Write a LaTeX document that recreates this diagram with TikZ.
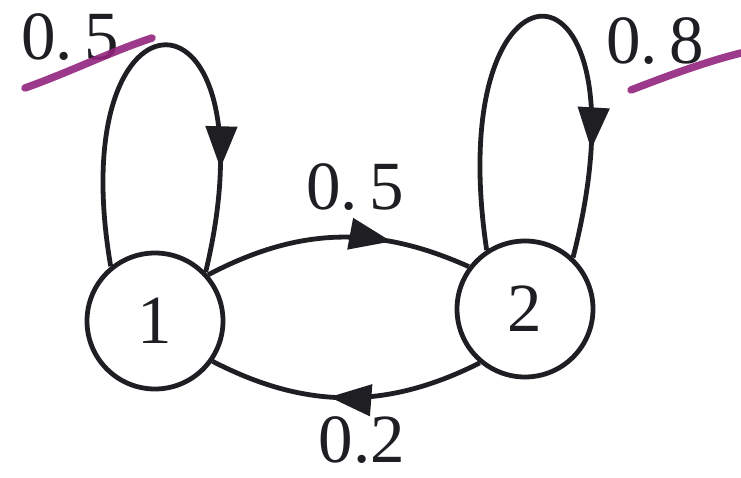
\documentclass[tikz,border=0pt]{standalone}
\usepackage{fontspec}
\setmainfont{Liberation Serif}
\usetikzlibrary{arrows.meta,decorations.markings}
\definecolor{ink}{RGB}{30,30,35}
\definecolor{marker}{RGB}{145,35,125}
\tikzset{
  state/.style={circle,draw=ink,line width=4.8pt,minimum size=136pt,inner sep=0pt,font=\fontsize{69}{70}\selectfont,text=ink},
  lbl/.style={font=\fontsize{69}{70}\selectfont,text=ink,inner sep=0pt},
  edge/.style={draw=ink,line width=4.8pt},
  midarrow/.style={postaction={decorate},decoration={markings,mark=at position #1 with {\arrow{Triangle[length=42pt,width=31pt]}}}},
  hl/.style={draw=marker,line width=7.5pt,line cap=round,opacity=0.9}
}
\begin{document}
\begin{tikzpicture}[x=1pt,y=-1pt]
\useasboundingbox (0,0) rectangle (741,478);
\node[state] (n1) at (155,321) {1};
\node[state] (n2) at (525,309) {2};
% self loops
\draw[edge,midarrow=0.79] (n1.129) .. controls (60,-30) and (278,-30) .. (n1.44);
\draw[edge,midarrow=0.79] (n2.123) .. controls (440,-63) and (655,-63) .. (n2.47);
% arcs between states
\draw[edge,midarrow=0.7] (n1.41) to[bend left=26] (n2.143);
\draw[edge,midarrow=0.56] (n2.-130) to[bend left=27] (n1.-35);
% labels
\node[lbl] (l12) at (355,187) {0.\,5};
\node[lbl] (l21) at (362,440) {0.2};
\node[lbl] (l11) at (70,37) {0.\,5};
\node[lbl] (l22) at (655,41) {0.\,8};
% marker strokes
\draw[hl] (25,88) .. controls (70,72) and (110,52) .. (152,38);
\draw[hl] (631,90) .. controls (670,75) and (705,62) .. (741,53);
\end{tikzpicture}
\end{document}
